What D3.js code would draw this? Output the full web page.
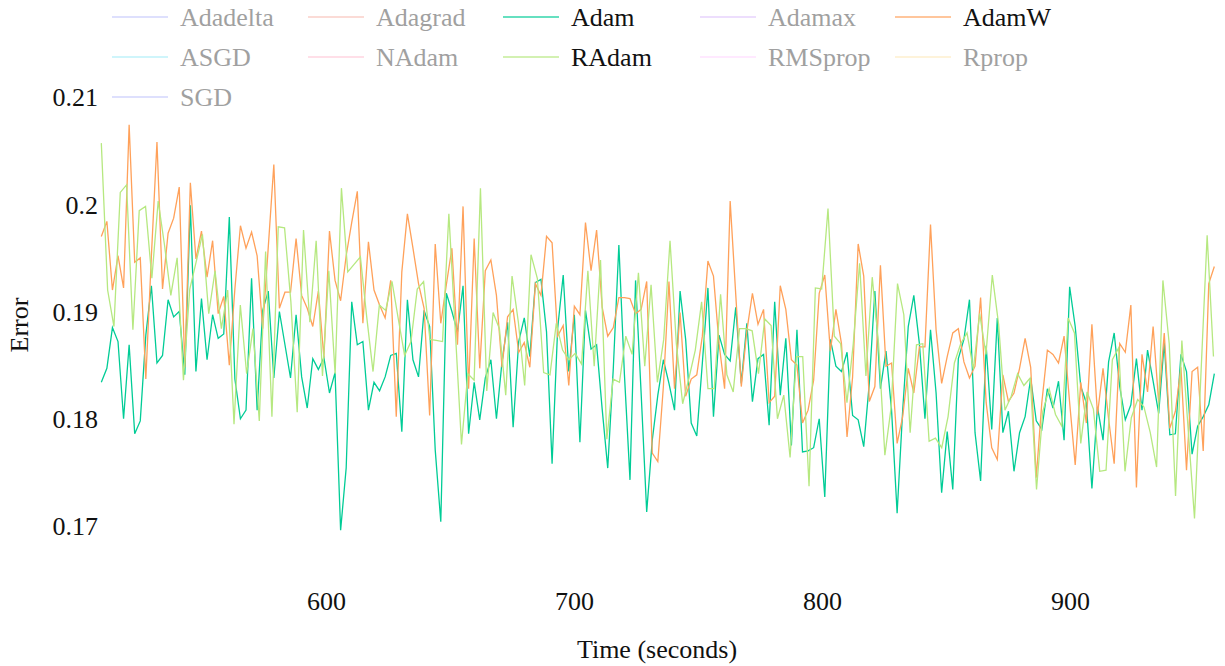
<!DOCTYPE html>
<html><head><meta charset="utf-8">
<script src="https://cdn.jsdelivr.net/npm/d3@7"></script>
<style>
html,body{margin:0;padding:0;background:#fff;}
</style>
</head><body>
<svg id="chart" width="1225" height="666"></svg>
<script>
// ---------- data ----------
const optimizers = ["Adadelta","Adagrad","Adam","Adamax","AdamW","ASGD","NAdam","RAdam","RMSprop","Rprop","SGD"];
const colors = ["#636efa","#EF553B","#00cc96","#ab63fa","#FFA15A","#19d3f3","#FF6692","#B6E880","#FF97FF","#FECB52","#636efa"];
const visible = [false,false,true,false,true,false,false,true,false,false,false];
const xTicks = [600,700,800,900];
const yTicks = [0.17,0.18,0.19,0.2,0.21];

// step timing per optimizer (seconds)
const startTime = 509.4;
const adamStep = 2.244;
const adamWStep = 2.244;
const radamStep = 2.548;

const adamErr = [0.1834,0.1847,0.1885,0.1872,0.1800,0.1869,0.1786,0.1798,0.1878,0.1924,
0.1852,0.1859,0.1911,0.1895,0.1900,0.1841,0.1999,0.1844,0.1912,0.1855,
0.1897,0.1875,0.1879,0.1988,0.1837,0.1800,0.1808,0.1931,0.1808,0.1901,
0.1919,0.1838,0.1900,0.1869,0.1838,0.1897,0.1839,0.1810,0.1856,0.1846,
0.1857,0.1824,0.1843,0.1696,0.1754,0.1909,0.1869,0.1872,0.1808,0.1834,
0.1826,0.1839,0.1859,0.1861,0.1788,0.1911,0.1855,0.1839,0.1901,0.1886,
0.1771,0.1704,0.1917,0.1900,0.1881,0.1924,0.1786,0.1834,0.1799,0.1838,
0.1855,0.1800,0.1853,0.1890,0.1792,0.1872,0.1894,0.1858,0.1927,0.1930,
0.1881,0.1758,0.1884,0.1934,0.1844,0.1897,0.1778,0.1901,0.1865,0.1869,
0.1809,0.1754,0.1847,0.1962,0.1841,0.1743,0.1929,0.1824,0.1713,0.1780,
0.1822,0.1855,0.1833,0.1808,0.1919,0.1874,0.1796,0.1784,0.1852,0.1922,
0.1802,0.1878,0.1860,0.1854,0.1904,0.1833,0.1889,0.1816,0.1856,0.1860,
0.1794,0.1909,0.1822,0.1875,0.1775,0.1883,0.1769,0.1770,0.1773,0.1800,
0.1727,0.1874,0.1849,0.1844,0.1862,0.1803,0.1799,0.1774,0.1833,0.1919,
0.1828,0.1863,0.1808,0.1712,0.1808,0.1886,0.1915,0.1870,0.1800,0.1883,
0.1824,0.1731,0.1788,0.1734,0.1856,0.1874,0.1911,0.1787,0.1742,0.1868,
0.1790,0.1894,0.1787,0.1807,0.1751,0.1787,0.1802,0.1838,0.1798,0.1790,
0.1828,0.1810,0.1835,0.1780,0.1923,0.1886,0.1830,0.1815,0.1735,0.1811,
0.1780,0.1853,0.1880,0.1830,0.1799,0.1813,0.1856,0.1808,0.1864,0.1835,
0.1805,0.1871,0.1785,0.1786,0.1860,0.1844,0.1767,0.1793,0.1802,0.1813,
0.1842];

const adamWErr = [0.1970,0.1984,0.1920,0.1952,0.1922,0.2074,0.1946,0.1950,0.1837,0.1952,
0.2058,0.1921,0.1973,0.1987,0.2016,0.1848,0.2020,0.1949,0.1975,0.1932,
0.1966,0.1898,0.1914,0.1850,0.1921,0.1980,0.1959,0.1974,0.1952,0.1884,
0.1960,0.2037,0.1903,0.1918,0.1918,0.1968,0.1915,0.1903,0.1886,0.1919,
0.1857,0.1975,0.1929,0.1910,0.1952,0.1983,0.2012,0.1889,0.1965,0.1920,
0.1906,0.1894,0.1929,0.1802,0.1937,0.1991,0.1959,0.1926,0.1903,0.1803,
0.1963,0.1889,0.1925,0.1959,0.1869,0.1998,0.1828,0.1968,0.1847,0.1938,
0.1948,0.1915,0.1848,0.1895,0.1902,0.1862,0.1871,0.1848,0.1926,0.1915,
0.1970,0.1964,0.1877,0.1887,0.1831,0.1905,0.1897,0.1983,0.1938,0.1976,
0.1904,0.1877,0.1885,0.1913,0.1913,0.1912,0.1898,0.1902,0.1928,0.1768,
0.1760,0.1830,0.1928,0.1828,0.1899,0.1821,0.1837,0.1841,0.1877,0.1947,
0.1933,0.1870,0.1828,0.2003,0.1916,0.1830,0.1882,0.1917,0.1888,0.1902,
0.1815,0.1821,0.1924,0.1902,0.1855,0.1850,0.1796,0.1808,0.1836,0.1917,
0.1934,0.1863,0.1902,0.1870,0.1783,0.1839,0.1963,0.1933,0.1816,0.1830,
0.1943,0.1849,0.1852,0.1777,0.1802,0.1847,0.1824,0.1867,0.1867,0.1981,
0.1883,0.1833,0.1858,0.1880,0.1884,0.1853,0.1838,0.1849,0.1913,0.1815,
0.1773,0.1762,0.1841,0.1816,0.1824,0.1847,0.1875,0.1848,0.1745,0.1815,
0.1864,0.1860,0.1852,0.1877,0.1815,0.1757,0.1834,0.1796,0.1888,0.1804,
0.1847,0.1800,0.1758,0.1870,0.1862,0.1906,0.1736,0.1860,0.1825,0.1886,
0.1815,0.1880,0.1791,0.1807,0.1848,0.1752,0.1844,0.1848,0.1770,0.1926,
0.1942];

const radamErr = [0.2057,0.1920,0.1886,0.2011,0.2018,0.1883,0.1994,0.1998,0.1931,0.2003,
0.1962,0.1915,0.1950,0.1836,0.1921,0.1946,0.1972,0.1898,0.1938,0.1884,
0.1920,0.1795,0.1906,0.1842,0.1884,0.1798,0.1956,0.1802,0.1979,0.1978,
0.1909,0.1806,0.1976,0.1890,0.1966,0.1840,0.1938,0.1842,0.2015,0.1937,
0.1944,0.1951,0.1895,0.1844,0.1906,0.1901,0.1928,0.1893,0.1859,0.1872,
0.1921,0.1928,0.1874,0.1873,0.1872,0.1991,0.1884,0.1776,0.1842,0.1836,
0.2015,0.1826,0.1899,0.1884,0.1822,0.1933,0.1890,0.1831,0.1953,0.1931,
0.1843,0.1841,0.1889,0.1864,0.1855,0.1861,0.1851,0.1938,0.1849,0.1948,
0.1781,0.1837,0.1834,0.1877,0.1860,0.1936,0.1849,0.1925,0.1834,0.1874,
0.1966,0.1870,0.1814,0.1838,0.1864,0.1909,0.1828,0.1828,0.1916,0.1841,
0.1825,0.1884,0.1884,0.1882,0.1842,0.1893,0.1887,0.1800,0.1822,0.1764,
0.1858,0.1858,0.1737,0.1922,0.1921,0.1996,0.1877,0.1870,0.1815,0.1870,
0.1945,0.1840,0.1932,0.1870,0.1766,0.1811,0.1926,0.1897,0.1787,0.1869,
0.1870,0.1779,0.1782,0.1773,0.1802,0.1852,0.1870,0.1880,0.1846,0.1898,
0.1860,0.1934,0.1888,0.1808,0.1821,0.1842,0.1831,0.1838,0.1734,0.1807,
0.1828,0.1804,0.1793,0.1894,0.1880,0.1777,0.1825,0.1809,0.1751,0.1752,
0.1855,0.1866,0.1751,0.1801,0.1818,0.1811,0.1787,0.1755,0.1929,0.1870,
0.1728,0.1873,0.1790,0.1707,0.1839,0.1971,0.1858];

// ---------- layout ----------
const FONT = "'Liberation Serif', 'DejaVu Serif', 'Times New Roman', serif";
const svg = d3.select("#chart");
const plot = {left: 100, right: 1216, top: 78, bottom: 570};

const x = d3.scaleLinear().domain([600, 900]).range([326, 1070]);
const y = d3.scaleLinear().domain([0.17, 0.21]).range([526, 97]);

svg.append("defs").append("clipPath").attr("id","clip")
  .append("rect").attr("x",plot.left).attr("y",plot.top)
  .attr("width",plot.right-plot.left).attr("height",plot.bottom-plot.top);

// axes (labels only)
const yAxis = svg.append("g").attr("transform","translate(98,0)")
  .call(d3.axisLeft(y).tickValues(yTicks).tickSize(0).tickPadding(0)
    .tickFormat(d => String(+d.toFixed(2))));
yAxis.select(".domain").remove();
yAxis.attr("font-family", null).attr("font-size", null);
yAxis.selectAll("text").attr("fill","#111").attr("dy","0.34em")
  .style("font-family", FONT).style("font-size","26px");

const xAxis = svg.append("g").attr("transform","translate(0,592)")
  .call(d3.axisBottom(x).tickValues(xTicks).tickSize(0).tickPadding(0)
    .tickFormat(d3.format("d")));
xAxis.select(".domain").remove();
xAxis.attr("font-family", null).attr("font-size", null);
xAxis.selectAll("text").attr("fill","#111")
  .style("font-family", FONT).style("font-size","26px");

svg.append("text").attr("transform","translate(28,325) rotate(-90)")
  .attr("text-anchor","middle").attr("fill","#111")
  .style("font-family", FONT).style("font-size","26px").text("Error");
svg.append("text").attr("x",657).attr("y",658)
  .attr("text-anchor","middle").attr("fill","#111")
  .style("font-family", FONT).style("font-size","26px").text("Time (seconds)");

// ---------- series ----------
const series = [
  {name:"Adam",  vals: adamErr,  step: adamStep},
  {name:"AdamW", vals: adamWErr, step: adamWStep},
  {name:"RAdam", vals: radamErr, step: radamStep}
];
const line = d3.line().x(d => x(d.t)).y(d => y(d.v));
const gLines = svg.append("g").attr("clip-path","url(#clip)");
series.forEach(s => {
  const pts = s.vals.map((v,i) => ({t: startTime + i*s.step, v}));
  gLines.append("path").datum(pts)
    .attr("d", line)
    .attr("fill","none")
    .attr("stroke", colors[optimizers.indexOf(s.name)])
    .attr("stroke-width",1.3)
    .attr("stroke-linejoin","miter");
});

// ---------- legend ----------
const legend = svg.append("g");
const colX = [112, 308, 503, 700, 895];
const rowY = [17, 57, 97];
optimizers.forEach((name, i) => {
  const cx = colX[i % 5], cy = rowY[Math.floor(i / 5)];
  const g = legend.append("g").attr("opacity", visible[i] ? 1 : 0.5);
  g.append("line").attr("x1",cx).attr("x2",cx+56).attr("y1",cy).attr("y2",cy)
    .attr("stroke",colors[i]).attr("stroke-width",1.5)
    .attr("stroke-opacity", visible[i] ? 0.8 : 0.55);
  g.append("text").attr("x",cx+68).attr("y",cy).attr("dy","0.34em")
    .attr("fill", visible[i] ? "#111" : "#444")
    .style("font-family", FONT).style("font-size","26px").text(name);
});
</script>
</body></html>
